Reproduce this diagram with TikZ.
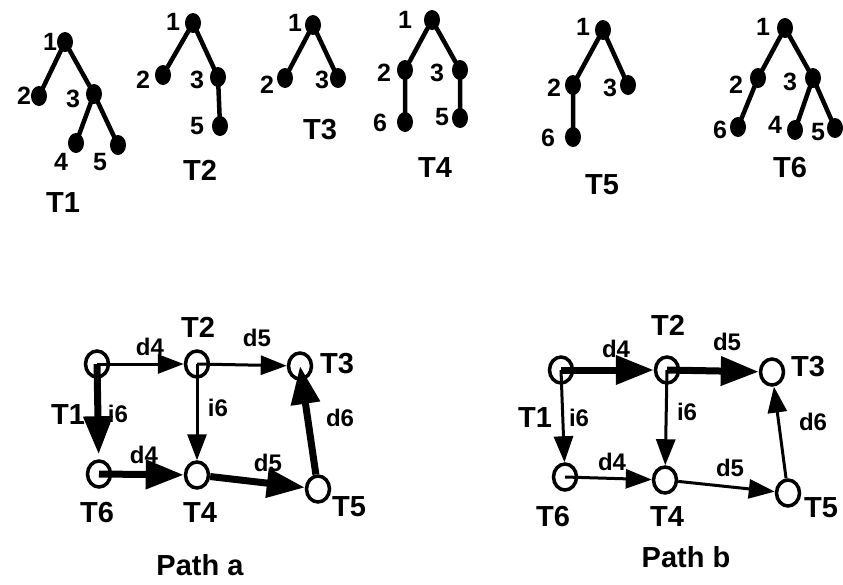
\documentclass[tikz,border=0pt]{standalone}
\usepackage{fontspec}
\setmainfont{Liberation Sans}
\usetikzlibrary{arrows.meta,shapes.geometric}

\begin{document}
\begin{tikzpicture}[x=1pt,y=-1pt,
  dot/.style={ellipse,fill=black,inner sep=0pt,minimum width=16pt,minimum height=20pt},
  lbl/.style={font=\fontsize{25}{25}\selectfont\bfseries,inner sep=0pt},
  tname/.style={font=\fontsize{29}{29}\selectfont\bfseries,inner sep=0pt},
  branch/.style={line width=4.5pt},
  state/.style={ellipse,draw,line width=3.5pt,inner sep=0pt,minimum width=23pt,minimum height=26pt},
  thinarr/.style={line width=3pt,-{Triangle[length=26pt,width=19pt]}},
  thickarr/.style={line width=7pt,-{Triangle[length=38pt,width=28pt]}},
  elbl/.style={font=\fontsize{24}{24}\selectfont\bfseries,inner sep=0pt},
]
\useasboundingbox (0,0) rectangle (843,584);

% ---------- tree T1 ----------
\node[dot] (p1a) at (65,42) {};
\node[dot] (p1b) at (39,96) {};
\node[dot] (p1c) at (94,94) {};
\node[dot] (p1d) at (76,143) {};
\node[dot] (p1e) at (118,145) {};
\draw[branch] (p1a.center) -- (p1b.center) (p1a.center) -- (p1c.center)
  (p1c.center) -- (p1d.center) (p1c.center) -- (p1e.center);
\node[lbl] (l1a) at (50,42) {1};
\node[lbl] (l1b) at (24,96) {2};
\node[lbl] (l1c) at (73,99) {3};
\node[lbl] (l1d) at (61,162) {4};
\node[lbl] (l1e) at (100,162) {5};
\node[tname] (n1) at (63,203) {T1};

% ---------- tree T2 ----------
\node[dot] (p2a) at (193,23) {};
\node[dot] (p2b) at (163,75) {};
\node[dot] (p2c) at (218,77) {};
\node[dot] (p2e) at (220,126) {};
\draw[branch] (p2a.center) -- (p2b.center) (p2a.center) -- (p2c.center)
  (p2c.center) -- (p2e.center);
\node[lbl] (l2a) at (173,22) {1};
\node[lbl] (l2b) at (143,80) {2};
\node[lbl] (l2c) at (197,80) {3};
\node[lbl] (l2e) at (197,126) {5};
\node[tname] (n2) at (200,170) {T2};

% ---------- tree T3 ----------
\node[dot] (p3a) at (313,25) {};
\node[dot] (p3b) at (285,78) {};
\node[dot] (p3c) at (338,78) {};
\draw[branch] (p3a.center) -- (p3b.center) (p3a.center) -- (p3c.center);
\node[lbl] (l3a) at (295,23) {1};
\node[lbl] (l3b) at (267,85) {2};
\node[lbl] (l3c) at (322,80) {3};
\node[tname] (n3) at (320,130) {T3};

% ---------- tree T4 ----------
\node[dot] (p4a) at (432,20) {};
\node[dot] (p4b) at (405,70) {};
\node[dot] (p4c) at (460,70) {};
\node[dot] (p4f) at (405,122) {};
\node[dot] (p4e) at (460,118) {};
\draw[branch] (p4a.center) -- (p4b.center) (p4a.center) -- (p4c.center)
  (p4b.center) -- (p4f.center) (p4c.center) -- (p4e.center);
\node[lbl] (l4a) at (405,20) {1};
\node[lbl] (l4b) at (384,73) {2};
\node[lbl] (l4c) at (437,73) {3};
\node[lbl] (l4f) at (380,123) {6};
\node[lbl] (l4e) at (442,117) {5};
\node[tname] (n4) at (435,168) {T4};

% ---------- tree T5 ----------
\node[dot] (p5a) at (603,30) {};
\node[dot] (p5b) at (573,85) {};
\node[dot] (p5c) at (628,85) {};
\node[dot] (p5f) at (573,137) {};
\draw[branch] (p5a.center) -- (p5b.center) (p5a.center) -- (p5c.center)
  (p5b.center) -- (p5f.center);
\node[lbl] (l5a) at (583,27) {1};
\node[lbl] (l5b) at (554,88) {2};
\node[lbl] (l5c) at (610,88) {3};
\node[lbl] (l5f) at (548,138) {6};
\node[tname] (n5) at (602,185) {T5};

% ---------- tree T6 ----------
\node[dot] (p6a) at (785,28) {};
\node[dot] (p6b) at (758,78) {};
\node[dot] (p6c) at (813,78) {};
\node[dot] (p6f) at (738,127) {};
\node[dot] (p6d) at (795,130) {};
\node[dot] (p6e) at (835,128) {};
\draw[branch] (p6a.center) -- (p6b.center) (p6a.center) -- (p6c.center)
  (p6b.center) -- (p6f.center) (p6c.center) -- (p6d.center)
  (p6c.center) -- (p6e.center);
\node[lbl] (l6a) at (763,27) {1};
\node[lbl] (l6b) at (736,85) {2};
\node[lbl] (l6c) at (790,82) {3};
\node[lbl] (l6f) at (720,130) {6};
\node[lbl] (l6d) at (775,125) {4};
\node[lbl] (l6e) at (818,132) {5};
\node[tname] (n6) at (790,168) {T6};

% ---------- path a ----------
\node[state] (a1) at (97,364) {};
\node[state] (a2) at (197,364) {};
\node[state] (a3) at (300,366) {};
\node[state] (a6) at (99,474) {};
\node[state] (a4) at (197,475) {};
\node[state] (a5) at (318,489) {};
\draw[thinarr] (a1.center) -- (a2);
\draw[thinarr] (a2.center) -- (a3);
\draw[thickarr,shorten >=5pt] (a1.center) -- (a6);
\draw[thinarr] (a2.center) -- (a4);
\draw[thickarr] (a6.center) -- (a4);
\draw[thickarr] (a4) -- (a5);
\draw[thickarr] (a5) -- (a3.center);
\node[tname] (ta2) at (198,327) {T2};
\node[tname] (ta3) at (337,364) {T3};
\node[tname] (ta1) at (68,415) {T1};
\node[tname] (ta6) at (97,513) {T6};
\node[tname] (ta4) at (200,513) {T4};
\node[tname] (ta5) at (349,507) {T5};
\node[elbl] (ea1) at (150,347) {d4};
\node[elbl] (ea2) at (257,338) {d5};
\node[elbl] (ea3) at (118,414) {i6};
\node[elbl] (ea4) at (218,408) {i6};
\node[elbl] (ea5) at (340,418) {d6};
\node[elbl] (ea6) at (144,455) {d4};
\node[elbl] (ea7) at (268,463) {d5};
\node[tname] (capa) at (200,565) {Path a};

% ---------- path b ----------
\node[state] (b1) at (561,370) {};
\node[state] (b2) at (667,370) {};
\node[state] (b3) at (772,372) {};
\node[state] (b6) at (565,477) {};
\node[state] (b4) at (665,480) {};
\node[state] (b5) at (788,493) {};
\draw[thickarr] (b1.center) -- (b2);
\draw[thickarr] (b2.center) -- (b3);
\draw[thinarr] (b1.center) -- (b6);
\draw[thinarr] (b2.center) -- (b4);
\draw[thinarr] (b6.center) -- (b4);
\draw[thinarr] (b4) -- (b5);
\draw[thinarr] (b5) -- (b3);
\node[tname] (tb2) at (668,325) {T2};
\node[tname] (tb3) at (808,367) {T3};
\node[tname] (tb1) at (535,418) {T1};
\node[tname] (tb6) at (553,517) {T6};
\node[tname] (tb4) at (667,517) {T4};
\node[tname] (tb5) at (821,508) {T5};
\node[elbl] (eb1) at (616,349) {d4};
\node[elbl] (eb2) at (727,342) {d5};
\node[elbl] (eb3) at (579,418) {i6};
\node[elbl] (eb4) at (687,412) {i6};
\node[elbl] (eb5) at (813,422) {d6};
\node[elbl] (eb6) at (612,462) {d4};
\node[elbl] (eb7) at (730,468) {d5};
\node[tname] (capb) at (686,557) {Path b};
\end{tikzpicture}
\end{document}
